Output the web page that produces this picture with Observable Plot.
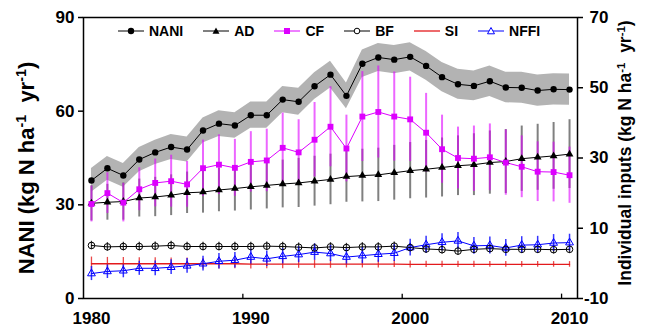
<!DOCTYPE html>
<html><head><meta charset="utf-8">
<script src="https://cdn.jsdelivr.net/npm/d3@7"></script>
<script src="https://cdn.jsdelivr.net/npm/@observablehq/plot@0.6"></script>
<style>
body{margin:0;background:#fff;}
#wrap{position:relative;width:654px;height:329px;font-family:"Liberation Sans",Arial,sans-serif;}
#legend{position:absolute;top:23px;left:118px;display:flex;gap:20px;align-items:center;font-weight:bold;font-size:14px;line-height:16px;}
.item{display:flex;align-items:center;gap:5px;}
.item svg{display:block;}
</style></head>
<body><div id="wrap"><div id="legend"></div></div>
<script>
const years = [1980,1981,1982,1983,1984,1985,1986,1987,1988,1989,1990,1991,1992,1993,1994,1995,1996,1997,1998,1999,2000,2001,2002,2003,2004,2005,2006,2007,2008,2009,2010];
// NANI (left axis)
const nani    = [37.8,41.7,39.4,44.5,46.8,48.5,47.7,53.8,56.0,55.4,58.7,58.7,63.7,63.0,68.0,71.7,64.9,75.2,77.2,76.5,77.4,74.5,70.9,68.6,68.1,69.6,67.6,67.5,66.6,67.0,66.9];
const naniErr = [3.8,3.8,3.8,3.9,3.9,4.0,4.0,4.0,4.1,4.1,4.2,4.2,4.2,4.3,4.3,4.3,4.1,4.4,4.5,4.5,4.5,4.6,4.7,4.8,4.8,4.9,4.9,5.0,5.0,5.0,5.0];
// individual inputs (right axis)
const ad      = [17.1,17.4,17.6,18.6,18.9,19.4,20.1,20.3,20.9,21.3,21.8,22.2,22.6,22.9,23.4,23.9,24.7,25.0,25.2,25.8,26.4,26.8,27.3,27.8,28.1,28.7,29.0,29.8,30.2,30.6,31.1];
const adErr   = [5.0,5.1,5.3,5.4,5.6,5.8,5.9,6.0,6.2,6.4,6.6,6.7,6.8,7.0,7.1,7.2,7.3,7.5,7.6,7.8,8.0,8.2,8.4,8.5,8.8,9.0,9.1,9.3,9.4,9.5,9.8];
const cf      = [16.9,20.0,17.3,21.1,22.9,23.4,22.5,27.1,28.1,27.2,28.9,29.3,32.9,31.6,35.2,38.9,32.7,41.8,43.1,41.8,41.0,37.2,32.5,30.0,29.8,30.2,28.7,27.5,26.1,26.0,25.1];
const cfErr   = [5.1,5.8,5.5,6.1,6.8,7.4,6.5,8.0,8.5,8.1,8.6,8.9,9.9,9.3,10.6,11.4,9.5,12.8,13.1,12.7,12.0,11.2,9.7,8.8,9.3,9.5,9.3,8.8,8.5,8.5,8.0];
const bf      = [5.1,4.7,4.8,4.8,4.9,5.1,4.8,4.8,4.8,4.8,4.8,4.9,4.8,4.6,4.4,4.7,4.5,4.7,4.7,4.9,4.5,4.1,3.9,3.5,4.0,4.2,4.0,4.0,4.0,3.9,4.0];
const bfErr   = [1.2,1.2,1.2,1.2,1.2,1.2,1.2,1.2,1.2,1.2,1.2,1.2,1.2,1.2,1.2,1.2,1.2,1.2,1.2,1.2,1.2,1.2,1.2,1.2,1.2,1.2,1.2,1.2,1.2,1.2,1.2];
const si      = [-0.1,-0.1,-0.1,-0.1,-0.1,-0.1,-0.1,-0.1,-0.1,-0.1,-0.2,-0.2,-0.2,-0.2,-0.2,-0.2,-0.2,-0.2,-0.2,-0.2,-0.3,-0.3,-0.3,-0.3,-0.3,-0.3,-0.3,-0.3,-0.3,-0.3,-0.3];
const siErr   = [1.9,1.8,1.8,1.7,1.7,1.6,1.6,1.5,1.5,1.4,1.4,1.3,1.3,1.2,1.2,1.2,1.1,1.1,1.1,1.0,1.0,0.9,0.9,0.9,0.9,0.8,0.8,0.8,0.8,0.8,0.8];
const nffi    = [-2.9,-2.3,-2.1,-1.4,-1.4,-1.1,-0.7,-0.1,0.6,0.9,1.8,1.3,2.0,2.5,3.2,2.8,1.8,2.2,2.6,2.9,4.5,5.3,6.0,6.4,5.0,5.1,4.4,5.2,5.3,5.8,5.9];
const nffiErr = [2.0,2.0,2.0,2.0,2.1,2.1,2.1,2.1,2.2,2.2,2.2,2.2,2.2,2.3,2.3,2.3,2.3,2.3,2.3,2.4,2.4,2.4,2.4,2.4,2.4,2.4,2.4,2.4,2.4,2.4,2.4];

const leftTicks = [0, 30, 60, 90];
const rightTicks = [-10, 10, 30, 50, 70];
const xLabels = [1980, 1990, 2000, 2010];
const xTickYears = [1990, 2000, 2010];

const seriesNames  = ["NANI", "AD", "CF", "BF", "SI", "NFFI"];
const seriesColors = ["#000000", "#000000", "#dd00ff", "#000000", "#e31a1c", "#0000ff"];
const seriesMarks  = ["dot", "tri", "square", "ring", "none", "otri"];

// right axis (-10..70) mapped onto left axis (0..90)
const toL = r => (r + 10) * 90 / 80;
const fromL = l => l * 80 / 90 - 10;

const rows = years.map((year, i) => ({
  year,
  nani: nani[i], naniLo: nani[i] - naniErr[i], naniHi: nani[i] + naniErr[i],
  ad: toL(ad[i]), adLo: toL(ad[i] - adErr[i]), adHi: toL(ad[i] + adErr[i]),
  cf: toL(cf[i]), cfLo: toL(cf[i] - cfErr[i]), cfHi: toL(cf[i] + cfErr[i]),
  bf: toL(bf[i]), bfLo: toL(bf[i] - bfErr[i]), bfHi: toL(bf[i] + bfErr[i]),
  si: toL(si[i]), siLo: toL(si[i] - siErr[i]), siHi: toL(si[i] + siErr[i]),
  nffi: toL(nffi[i]), nffiLo: toL(nffi[i] - nffiErr[i]), nffiHi: toL(nffi[i] + nffiErr[i])
}));

const chart = Plot.plot({
  width: 654, height: 329,
  marginLeft: 83, marginRight: 77, marginTop: 17, marginBottom: 31,
  x: {domain: [1979.5, 2010.5]},
  y: {domain: [0, 90]},
  style: {fontFamily: '"Liberation Sans", Arial, sans-serif', fontSize: "17px", fontWeight: "bold", color: "black", background: "white", overflow: "visible"},
  marks: [
    Plot.areaY(rows, {x: "year", y1: "naniLo", y2: "naniHi", fill: "#b3b3b3"}),
    Plot.ruleX(rows, {x: "year", y1: "adLo", y2: "adHi", stroke: "#6a6a6a", strokeWidth: 2, strokeOpacity: 0.85}),
    Plot.ruleX(rows, {x: "year", y1: "cfLo", y2: "cfHi", stroke: "#e000ff", strokeWidth: 2, strokeOpacity: 0.6}),
    Plot.ruleX(rows, {x: "year", y1: "bfLo", y2: "bfHi", stroke: "#333", strokeWidth: 1.3}),
    Plot.ruleX(rows, {x: "year", y1: "siLo", y2: "siHi", stroke: "#e31a1c", strokeWidth: 1.3, strokeOpacity: 0.8}),
    Plot.ruleX(rows, {x: "year", y1: "nffiLo", y2: "nffiHi", stroke: "#1010ff", strokeWidth: 1.5, strokeOpacity: 0.85}),
    Plot.lineY(rows, {x: "year", y: "si", stroke: "#e31a1c", strokeWidth: 1.3}),
    Plot.lineY(rows, {x: "year", y: "nffi", stroke: "#0000ff", strokeWidth: 1}),
    Plot.lineY(rows, {x: "year", y: "bf", stroke: "black", strokeWidth: 1}),
    Plot.lineY(rows, {x: "year", y: "ad", stroke: "black", strokeWidth: 1}),
    Plot.lineY(rows, {x: "year", y: "cf", stroke: "#dd00ff", strokeWidth: 1}),
    Plot.lineY(rows, {x: "year", y: "nani", stroke: "black", strokeWidth: 1}),
    Plot.dot(rows, {x: "year", y: "nffi", symbol: "triangle", r: 2.9, stroke: "#0000ff", fill: "none", strokeWidth: 1}),
    Plot.dot(rows, {x: "year", y: "bf", symbol: "circle", r: 3.3, stroke: "black", fill: "none", strokeWidth: 1}),
    Plot.dot(rows, {x: "year", y: "ad", symbol: "triangle", r: 2.9, fill: "black", stroke: "none"}),
    Plot.dot(rows, {x: "year", y: "cf", symbol: "square", r: 3.3, fill: "#dd00ff", stroke: "none"}),
    Plot.dot(rows, {x: "year", y: "nani", r: 3.2, fill: "black", stroke: "none"}),
    Plot.frame({stroke: "black", strokeWidth: 1.5}),
    Plot.axisY(leftTicks, {anchor: "left", tickSize: 5, tickPadding: 4, strokeWidth: 1.5, label: null}),
    Plot.axisY(rightTicks.map(toL), {anchor: "right", tickSize: 5, tickPadding: 26, strokeWidth: 1.5,
      tickFormat: d => String(Math.round(fromL(d))), textAnchor: "end", label: null}),
    Plot.axisX(xLabels, {anchor: "bottom", tickSize: 0, tickPadding: 13, tickFormat: d => String(d), label: null}),
    Plot.ruleX(xTickYears, {x: d => d - 0.5, y1: 0, y2: 1.4, stroke: "black", strokeWidth: 1.3})
  ]
});

document.getElementById("wrap").appendChild(chart);

// axis titles with superscripts
const svg = d3.select(chart);
function title(x, y, size, parts) {
  const t = svg.append("text")
    .attr("transform", `translate(${x},${y}) rotate(-90)`)
    .attr("text-anchor", "middle")
    .attr("font-size", size)
    .attr("font-weight", "bold")
    .attr("fill", "black");
  parts.forEach(([s, sup], k) => {
    t.append("tspan")
      .attr("font-size", sup ? "0.65em" : null)
      .attr("dy", sup ? "-0.55em" : (k > 0 && parts[k - 1][1] ? "0.36em" : null))
      .text(s);
  });
}
title(34, 168, 22, [["NANI (kg N ha", false], ["-1", true], ["  yr", false], ["-1", true], [")", false]]);
title(631, 153, 17.5, [["Individual inputs (kg N ha", false], ["-1", true], ["  yr", false], ["-1", true], [")", false]]);

// legend
const legend = d3.select("#legend");
seriesNames.forEach((name, i) => {
  const item = legend.append("div").attr("class", "item");
  const s = item.append("svg").attr("width", 26).attr("height", 12);
  const c = seriesColors[i];
  s.append("line").attr("x1", 0).attr("x2", 26).attr("y1", 6).attr("y2", 6).attr("stroke", c).attr("stroke-width", i === 4 ? 1.3 : 1);
  const m = seriesMarks[i];
  if (m === "dot") s.append("circle").attr("cx", 13).attr("cy", 6).attr("r", 3.2).attr("fill", c);
  if (m === "ring") s.append("circle").attr("cx", 13).attr("cy", 6).attr("r", 2.8).attr("fill", "white").attr("stroke", c);
  if (m === "square") s.append("rect").attr("x", 10).attr("y", 3).attr("width", 6).attr("height", 6).attr("fill", c);
  if (m === "tri" || m === "otri") {
    s.append("path").attr("d", "M13,2.5L16.5,8.8L9.5,8.8Z")
      .attr("fill", m === "tri" ? c : "white").attr("stroke", m === "tri" ? "none" : c);
  }
  item.append("span").text(name);
});
</script>
</body></html>
